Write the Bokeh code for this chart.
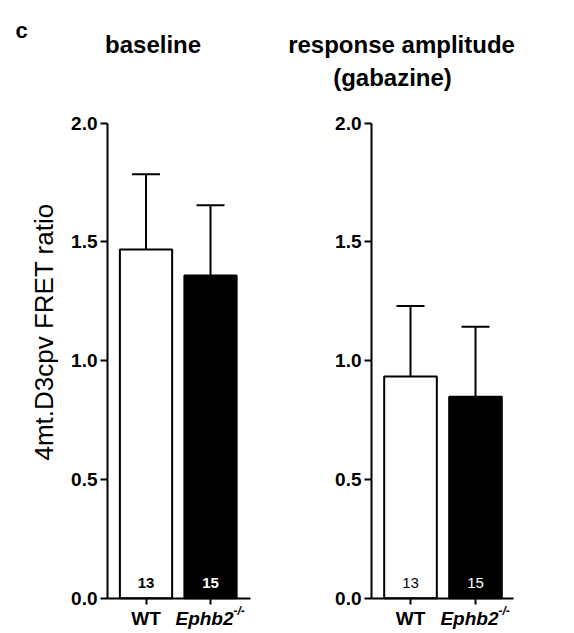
import math
from bokeh.plotting import figure
from bokeh.layouts import row
from bokeh.core.properties import value
from bokeh.models import (ColumnDataSource, Whisker, TeeHead, LabelSet, Label,
                          FixedTicker, Range1d, NumeralTickFormatter)
from bokeh.embed import file_html
from bokeh.resources import INLINE

# ---- data ----
groups = ["WT", "Ephb2"]
x_pos = [1, 2]
baseline_mean = [1.468, 1.359]
baseline_sem = [0.317, 0.296]
gabazine_mean = [0.933, 0.848]
gabazine_sem = [0.297, 0.295]
n_cells = ["13", "15"]
y_ticks = [0.0, 0.5, 1.0, 1.5, 2.0]

FONT = value("Liberation Sans")
bar_fill = ["white", "black"]
count_color = ["black", "white"]

Y_START, Y_END = -0.1486, 2.5166


def make_panel(width, x_start, x_end, axis_x, axis_x_end, means, sems,
               titles, count_style, ylabel=False):
    p = figure(width=width, height=633,
               x_range=Range1d(x_start, x_end), y_range=Range1d(Y_START, Y_END),
               output_backend="svg", toolbar_location=None,
               min_border_left=0, min_border_right=0,
               min_border_top=0, min_border_bottom=0)
    p.outline_line_color = None
    p.xgrid.visible = False
    p.ygrid.visible = False
    p.background_fill_color = "white"
    p.border_fill_color = "white"

    # y axis, pinned at the left end of the category axis
    ya = p.yaxis[0]
    ya.fixed_location = axis_x
    ya.bounds = (0, 2)
    ya.ticker = FixedTicker(ticks=y_ticks)
    ya.formatter = NumeralTickFormatter(format="0.0")
    ya.axis_line_width = 2
    ya.major_tick_line_width = 2
    ya.major_tick_out = 7
    ya.major_tick_in = 0
    ya.minor_tick_line_color = None
    ya.major_label_text_font = "Liberation Sans"
    ya.major_label_text_font_style = "bold"
    ya.major_label_text_font_size = "19px"
    ya.major_label_text_color = "black"
    ya.major_label_standoff = 3

    # x axis pinned at y = 0
    xa = p.xaxis[0]
    xa.fixed_location = 0
    xa.bounds = (axis_x, axis_x_end)
    xa.ticker = FixedTicker(ticks=x_pos)
    xa.axis_line_width = 2
    xa.major_tick_line_width = 2
    xa.major_tick_out = 6
    xa.major_tick_in = 0
    xa.minor_tick_line_color = None
    xa.major_label_text_color = None

    tops = [m + s for m, s in zip(means, sems)]
    src = ColumnDataSource(dict(x=x_pos, top=means, upper=tops, fill=bar_fill,
                                n=n_cells, ncol=count_color,
                                name=groups, y0=[0, 0]))
    p.vbar(x="x", top="top", bottom=0, width=0.81, source=src,
           fill_color="fill", line_color="black", line_width=2)

    wh = Whisker(source=src, base="x", lower="top", upper="upper",
                 dimension="height", line_width=2, line_color="black",
                 upper_head=TeeHead(size=28, line_width=2, line_color="black"),
                 lower_head=None)
    p.add_layout(wh)

    # counts inside bars
    p.add_layout(LabelSet(x="x", y="y0", text="n", source=src, y_offset=15,
                          text_align="center", text_baseline="middle",
                          text_color="ncol", text_font=FONT,
                          text_font_style=count_style, text_font_size="15px"))

    # category labels under the axis
    wt_src = ColumnDataSource(dict(x=x_pos[:1], y=[0], t=groups[:1]))
    ko_src = ColumnDataSource(dict(x=x_pos[1:], y=[0], t=groups[1:]))
    p.add_layout(LabelSet(x="x", y="y", text="t", source=wt_src, y_offset=-20,
                          text_align="center", text_baseline="middle",
                          text_font=FONT, text_font_style="bold",
                          text_font_size="19px", text_color="black"))
    p.add_layout(LabelSet(x="x", y="y", text="t", source=ko_src, y_offset=-20,
                          x_offset=23, text_align="right", text_baseline="middle",
                          text_font=FONT, text_font_style="bold italic",
                          text_font_size="19px", text_color="black"))
    sup_src = ColumnDataSource(dict(x=x_pos[1:], y=[0], t=["-/-"]))
    p.add_layout(LabelSet(x="x", y="y", text="t", source=sup_src, y_offset=-13,
                          x_offset=23, text_align="left", text_baseline="middle",
                          text_font=FONT, text_font_style="bold italic",
                          text_font_size="12px", text_color="black"))

    # titles
    for (tx, ty, txt) in titles:
        p.add_layout(Label(x=tx, y=ty, text=txt, text_align="center",
                           text_baseline="middle", text_font="Liberation Sans",
                           text_font_style="bold", text_font_size="24px",
                           text_color="black"))
    if ylabel:
        p.add_layout(Label(x=-0.574, y=1.121,
                           text="4mt.D3cpv FRET ratio", angle=math.pi / 2,
                           text_align="center", text_baseline="middle",
                           text_font="Liberation Sans", text_font_size="26px",
                           text_color="black"))
        p.add_layout(Label(x=-0.930, y=2.390, text="c",
                           text_align="center", text_baseline="middle",
                           text_font="Liberation Sans", text_font_style="bold",
                           text_font_size="22px", text_color="black"))
    return p


left = make_panel(280, -1.256, 3.085, 0.403, 2.62, baseline_mean, baseline_sem,
                  [(1.109, 2.331, "baseline")], "bold", ylabel=True)
right = make_panel(294, -1.0, 3.523, 0.40, 2.58, gabazine_mean, gabazine_sem,
                   [(0.862, 2.331, "response amplitude"),
                    (0.723, 2.192, "(gabazine)")], "normal")

layout = row(left, right)
open("out.html", "w").write(file_html(layout, INLINE))
